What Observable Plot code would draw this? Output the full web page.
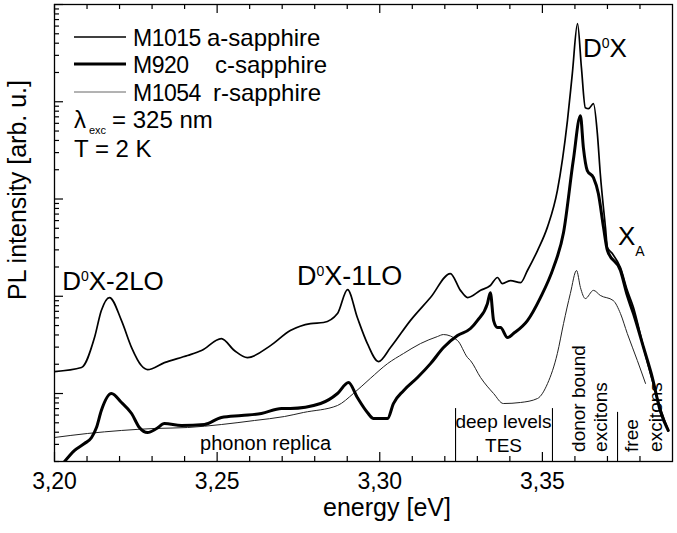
<!DOCTYPE html>
<html><head><meta charset="utf-8">
<script src="https://cdn.jsdelivr.net/npm/d3@7"></script>
<script src="https://cdn.jsdelivr.net/npm/@observablehq/plot@0.6"></script>
<style>body{margin:0;background:#fff} svg{display:block}</style>
</head><body><div id="chart"></div>
<script>
// ---- data (energy in eV, PL intensity in arbitrary units, log scale) ----
const m1015E = [3.2000,3.2083,3.2123,3.2144,3.2169,3.2206,3.2237,3.2267,3.2286,3.2338,3.2409,3.2452,3.2513,3.2553,3.2593,3.2664,3.2725,3.2787,3.2827,3.2870,3.2901,3.2931,3.2962,3.2996,3.3033,3.3094,3.3156,3.3217,3.3248,3.3270,3.3310,3.3340,3.3362,3.3377,3.3402,3.3433,3.3454,3.3485,3.3516,3.3546,3.3577,3.3592,3.3608,3.3620,3.3632,3.3642,3.3657,3.3669,3.3678,3.3694,3.3700,3.3715,3.3740,3.3761,3.3780,3.3811,3.3838,3.3862,3.3887];
const m1015I = [1.68,1.85,3.76,7.13,9.70,5.62,2.97,1.94,1.76,2.08,2.46,2.77,3.67,2.77,2.34,3.11,4.44,5.24,5.37,6.64,11.7,6.04,3.26,2.13,2.97,5.62,9.70,17.1,11.5,9.70,11.5,12.9,15.6,13.5,14.5,13.8,18.4,29.5,52.0,122,640,1945,6350,2240,869,849,957,470,182,50.8,31.7,27.5,19.7,11.5,7.65,2.97,1.36,0.718,0.417];

const m920E = [3.2031,3.2061,3.2092,3.2114,3.2129,3.2144,3.2175,3.2206,3.2237,3.2261,3.2286,3.2314,3.2338,3.2390,3.2461,3.2513,3.2575,3.2636,3.2698,3.2725,3.2818,3.2870,3.2904,3.2931,3.2962,3.2981,3.3024,3.3042,3.3073,3.3116,3.3156,3.3196,3.3239,3.3279,3.3300,3.3331,3.3340,3.3350,3.3362,3.3371,3.3393,3.3411,3.3454,3.3494,3.3534,3.3565,3.3595,3.3617,3.3626,3.3638,3.3657,3.3672,3.3688,3.3700,3.3740,3.3761,3.3780,3.3811,3.3838,3.3862,3.3887];
const m920I = [0.20,0.259,0.306,0.353,0.447,0.669,1.0,0.809,0.623,0.447,0.397,0.437,0.492,0.469,0.480,0.567,0.594,0.623,0.701,0.701,0.789,1.0,1.30,0.910,0.638,0.553,0.553,0.789,1.07,1.46,2.03,2.97,3.95,4.66,5.62,8.41,10.9,5.62,4.77,4.77,3.76,4.14,5.62,9.70,19.7,45.2,250,719,337,196,166,114,50.8,29.5,18.4,10.2,6.64,2.97,1.46,0.669,0.417];

const m1054E = [3.2000,3.2101,3.2206,3.2307,3.2409,3.2513,3.2615,3.2707,3.2765,3.2870,3.2919,3.2971,3.3024,3.3073,3.3125,3.3177,3.3196,3.3239,3.3270,3.3279,3.3310,3.3350,3.3380,3.3433,3.3485,3.3516,3.3546,3.3565,3.3586,3.3605,3.3617,3.3632,3.3657,3.3678,3.3718,3.3740,3.3761,3.3792,3.3817];
const m1054I = [0.353,0.388,0.417,0.437,0.447,0.480,0.528,0.580,0.638,0.753,1.0,1.43,2.03,2.58,3.26,3.85,4.04,3.51,2.34,2.18,1.46,1.0,0.789,0.809,0.889,1.27,2.58,5.24,10.7,18.4,12.3,9.47,11.5,10.2,9.03,6.64,4.14,2.18,1.27];

const seriesNames = ["M1015", "M920", "M1054"];
const substrates = ["a-sapphire", "c-sapphire", "r-sapphire"];

const xMajor = [3.20, 3.25, 3.30, 3.35];
const xTickLabels = ["3,20", "3,25", "3,30", "3,35"];
const xMinor = [3.21,3.22,3.23,3.24,3.26,3.27,3.28,3.29,3.31,3.32,3.33,3.34,3.36,3.37,3.38];
const yMajor = [1, 10, 100, 1000, 10000];
const yMinor = [0.2,0.3,0.4,0.5,0.6,0.7,0.8,0.9,2,3,4,5,6,7,8,9,20,30,40,50,60,70,80,90,200,300,400,500,600,700,800,900,2000,3000,4000,5000,6000,7000,8000,9000];

// region dividers (energy) and their top intensity
const dividerE = [3.3233, 3.3531, 3.3731];
const dividerTop = [0.70, 0.70, 0.64];

// ---- layout ----
const W = 677, H = 533, mL = 54, mR = 5, mT = 4, mB = 72;
const fw = W - mL - mR, fh = H - mT - mB;
const FONT = "'Liberation Sans', Arial, Helvetica, sans-serif";

const rows = (E, I) => E.map((e, i) => ({e, v: I[i]}));

const plot = Plot.plot({
  width: W, height: H,
  marginLeft: mL, marginRight: mR, marginTop: mT, marginBottom: mB,
  x: {domain: [3.2, 3.39], axis: null},
  y: {type: "log", domain: [0.2, 10000], axis: null},
  style: {fontFamily: FONT, background: "#fff", color: "#000", overflow: "visible"},
  marks: [
    Plot.tickX(xMinor, {x: d => d, insetTop: fh - 5, strokeWidth: 1.2}),
    Plot.tickX(xMajor, {x: d => d, insetTop: fh - 9, strokeWidth: 1.2}),
    Plot.tickX(xMinor, {x: d => d, insetBottom: fh - 5, strokeWidth: 1.2}),
    Plot.tickX(xMajor, {x: d => d, insetBottom: fh - 9, strokeWidth: 1.2}),
    Plot.tickY(yMinor, {y: d => d, insetRight: fw - 5, strokeWidth: 1.2}),
    Plot.tickY(yMajor, {y: d => d, insetRight: fw - 9, strokeWidth: 1.2}),
    Plot.axisX(xMajor, {tickSize: 0, tickPadding: 11, fontSize: 23, label: null,
      tickFormat: d => xTickLabels[xMajor.indexOf(d)]}),
    Plot.ruleX(dividerE.map((e, i) => ({e, top: dividerTop[i], bottom: 0.2})), {x: "e", y1: "bottom", y2: "top", strokeWidth: 1.1}),
    Plot.line(rows(m1054E, m1054I), {x: "e", y: "v", stroke: "#222", strokeWidth: 1, curve: "monotone-x", clip: true}),
    Plot.line(rows(m920E, m920I), {x: "e", y: "v", stroke: "#000", strokeWidth: 3, curve: "monotone-x", clip: true}),
    Plot.line(rows(m1015E, m1015I), {x: "e", y: "v", stroke: "#000", strokeWidth: 1.7, curve: "monotone-x", clip: true}),
    Plot.frame({stroke: "#000", strokeWidth: 1.3})
  ]
});
document.getElementById("chart").appendChild(plot);

// ---- annotations using the plot's own scales ----
function scaleFn(name) {
  const s = plot.scale(name);
  if (typeof s.apply === "function") return v => s.apply(v);
  return s.type === "log" ? d3.scaleLog(s.domain, s.range) : d3.scaleLinear(s.domain, s.range);
}
const sx = scaleFn("x"), sy = scaleFn("y");
const svg = d3.select(plot);
const g = svg.append("g").attr("font-family", FONT).attr("fill", "#000").attr("text-anchor", "start");

function supLabel(E, I, base, sup, rest, size) {
  const t = g.append("text").attr("x", sx(E)).attr("y", sy(I)).attr("font-size", size);
  t.append("tspan").text(base);
  t.append("tspan").attr("font-size", 14).attr("dy", -9).text(sup);
  t.append("tspan").attr("dy", 9).text(rest);
}
supLabel(3.2025, 11.5, "D", "0", "X-2LO", 26);
supLabel(3.2747, 12.9, "D", "0", "X-1LO", 27);
supLabel(3.3626, 2840, "D", "0", "X", 26);
{
  const t = g.append("text").attr("x", sx(3.3734)).attr("y", sy(33.2)).attr("font-size", 26);
  t.append("tspan").text("X");
  t.append("tspan").attr("font-size", 14).attr("dy", 11).text("A");
}
g.append("text").attr("x", sx(3.2449)).attr("y", sy(0.26)).attr("font-size", 20).text("phonon replica");
g.append("text").attr("x", sx(3.3382)).attr("y", sy(0.437)).attr("font-size", 19).attr("text-anchor", "middle").text("deep levels");
g.append("text").attr("x", sx(3.3382)).attr("y", sy(0.248)).attr("font-size", 19).attr("text-anchor", "middle").text("TES");
function vLabel(E, I, txt) {
  g.append("text").attr("transform", `translate(${sx(E)},${sy(I)}) rotate(-90)`)
    .attr("font-size", 19).text(txt);
}
vLabel(3.3632, 0.248, "donor bound");
vLabel(3.3700, 0.248, "excitons");
vLabel(3.3795, 0.248, "free");
vLabel(3.3869, 0.248, "excitons");

// axis titles
g.append("text").attr("x", 387).attr("y", 516).attr("text-anchor", "middle").attr("font-size", 25).text("energy [eV]");
g.append("text").attr("transform", "translate(26,190) rotate(-90)").attr("text-anchor", "middle").attr("font-size", 25).text("PL intensity [arb. u.]");

// legend
const legW = [1.6, 3, 1];
const legStroke = ["#000", "#000", "#666"];
const legY = [37, 64, 92];
const subX = [207, 215, 213];
seriesNames.forEach((n, i) => {
  g.append("line").attr("x1", 74).attr("x2", 126).attr("y1", legY[i]).attr("y2", legY[i])
    .attr("stroke", legStroke[i]).attr("stroke-width", legW[i]);
  g.append("text").attr("x", 133).attr("y", legY[i] + 9).attr("font-size", 23).attr("letter-spacing", -0.5).text(n);
  g.append("text").attr("x", subX[i]).attr("y", legY[i] + 9).attr("font-size", 24).text(substrates[i]);
});
g.append("text").attr("x", 74).attr("y", 128).attr("font-size", 24).text("λ");
g.append("text").attr("x", 89).attr("y", 134).attr("font-size", 11).text("exc");
g.append("text").attr("x", 112).attr("y", 128).attr("font-size", 24).text("= 325 nm");
g.append("text").attr("x", 74).attr("y", 157).attr("font-size", 24).text("T = 2 K");
</script>
</body></html>
